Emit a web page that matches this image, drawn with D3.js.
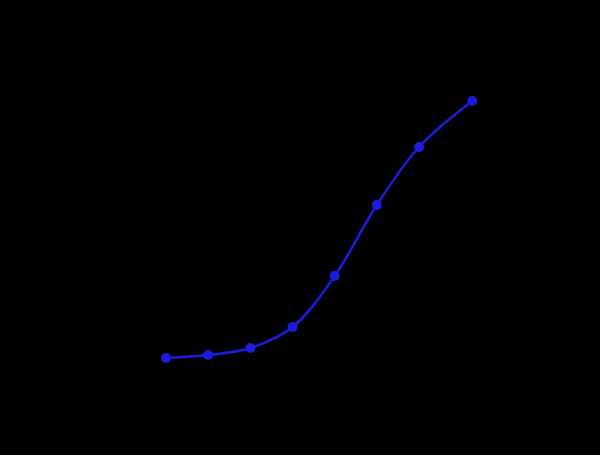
<!DOCTYPE html>
<html>
<head>
<meta charset="utf-8">
<script src="https://cdn.jsdelivr.net/npm/d3@7"></script>
<style>
  html, body { margin: 0; padding: 0; background: #000; }
  svg { display: block; }
</style>
</head>
<body>
<svg id="chart"></svg>
<script>
// standard curve: concentration vs optical density
const concentrations = [0.078, 0.156, 0.3125, 0.625, 1.25, 2.5, 5, 12];
const odValues = [0.22, 0.25, 0.32, 0.53, 1.04, 1.75, 2.33, 2.79];
const yTicks = [0, 0.5, 1, 1.5, 2, 2.5, 3];

const width = 600, height = 455;
const margin = { top: 80, right: 100, bottom: 75, left: 90 };

const svg = d3.select('#chart')
  .attr('width', width)
  .attr('height', height)
  .style('background', '#000');

// 0.078 sits at x=166 and 5 at x=419; extend that to the plot edges
const ref = d3.scaleLog().domain([0.078, 5]).range([166, 419]);
const x = d3.scaleLog()
  .domain([ref.invert(margin.left), ref.invert(width - margin.right)])
  .range([margin.left, width - margin.right]);

const y = d3.scaleLinear()
  .domain([0, 3])
  .range([380, 80]);

const data = concentrations.map((c, i) => ({ c, od: odValues[i] }));

// axes and labels are black, as in the reference
const axisColor = '#000';
const gx = svg.append('g')
  .attr('transform', `translate(0,${y(0)})`)
  .call(d3.axisBottom(x).ticks(5, '~g'));
const gy = svg.append('g')
  .attr('transform', `translate(${margin.left},0)`)
  .call(d3.axisLeft(y).tickValues(yTicks));
[gx, gy].forEach(g => {
  g.selectAll('path, line').attr('stroke', axisColor);
  g.selectAll('text').attr('fill', axisColor).style('font-family', 'Arial, sans-serif');
});

svg.append('text')
  .attr('x', (margin.left + width - margin.right) / 2)
  .attr('y', height - 30)
  .attr('text-anchor', 'middle')
  .attr('fill', axisColor)
  .style('font-family', 'Arial, sans-serif')
  .style('font-size', '14px')
  .text('Concentration (ng/mL)');

svg.append('text')
  .attr('transform', `translate(40,${y(1.5)}) rotate(-90)`)
  .attr('text-anchor', 'middle')
  .attr('fill', axisColor)
  .style('font-family', 'Arial, sans-serif')
  .style('font-size', '14px')
  .text('OD450');

const blue = '#1c1ce0';

const line = d3.line()
  .x(d => x(d.c))
  .y(d => y(d.od))
  .curve(d3.curveCatmullRom.alpha(0.5));

svg.append('path')
  .datum(data)
  .attr('fill', 'none')
  .attr('stroke', blue)
  .attr('stroke-width', 2.5)
  .attr('d', line);

svg.selectAll('circle.pt')
  .data(data)
  .enter()
  .append('circle')
  .attr('class', 'pt')
  .attr('cx', d => x(d.c))
  .attr('cy', d => y(d.od))
  .attr('r', 5)
  .attr('fill', blue);
</script>
</body>
</html>
